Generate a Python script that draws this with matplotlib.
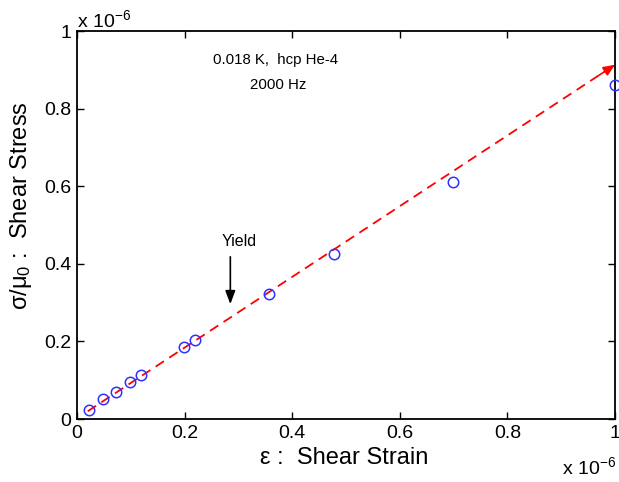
import matplotlib
matplotlib.use("Agg")
import matplotlib.pyplot as plt
import numpy as np

plt.rcParams['font.family'] = ['Liberation Sans', 'DejaVu Sans']
plt.rcParams['mathtext.fontset'] = 'custom'
plt.rcParams['mathtext.rm'] = 'Liberation Sans'
plt.rcParams['mathtext.it'] = 'Liberation Sans'

strain = [0.022, 0.048, 0.072, 0.098, 0.119, 0.198, 0.219, 0.357, 0.478, 0.698, 1.0]
stress = [0.023, 0.051, 0.070, 0.096, 0.113, 0.186, 0.203, 0.322, 0.424, 0.610, 0.862]
fit_x = [0.02, 1.0]
fit_y = [0.02, 0.913]
xticks = [0, 0.2, 0.4, 0.6, 0.8, 1]
xticklabels = ['0', '0.2', '0.4', '0.6', '0.8', '1']
yticks = [0, 0.2, 0.4, 0.6, 0.8, 1]
yticklabels = ['0', '0.2', '0.4', '0.6', '0.8', '1']

fig = plt.figure(figsize=(6.19, 4.82), dpi=100)
W, H = 619, 482
ax = fig.add_axes([77 / W, 1 - 419 / H, (615 - 77) / W, (419 - 31) / H])

ax.plot(fit_x, fit_y, color='red', linestyle=(0, (5.5, 3.5)), linewidth=1.3, zorder=2)
ax.annotate('', xy=(fit_x[1], fit_y[1]),
            xytext=(fit_x[1] - 0.03, fit_y[1] - 0.03 * (fit_y[1] - fit_y[0]) / (fit_x[1] - fit_x[0])),
            arrowprops=dict(arrowstyle='-|>,head_length=0.7,head_width=0.3', color='red', lw=1.2,
                            shrinkA=0, shrinkB=0), zorder=3)
ax.plot(strain, stress, linestyle='none', marker='o', markersize=7.5, markerfacecolor='none',
        markeredgecolor='#3030ff', markeredgewidth=1.1, zorder=4, clip_on=False)

ax.annotate('', xy=(0.285, 0.296), xytext=(0.285, 0.418),
            arrowprops=dict(arrowstyle='-|>,head_length=0.8,head_width=0.3', color='black', lw=1.2,
                            shrinkA=0, shrinkB=0))
ax.text(0.302, 0.458, 'Yield', ha='center', va='center', fontsize=11.5)
ax.text(0.370, 0.926, '0.018 K,  hcp He-4', ha='center', va='center', fontsize=10.8)
ax.text(0.374, 0.861, '2000 Hz', ha='center', va='center', fontsize=10.8)

ax.set_xlim(0, 1)
ax.set_ylim(0, 1)
ax.set_xticks(xticks)
ax.set_xticklabels(xticklabels)
ax.set_yticks(yticks)
ax.set_yticklabels(yticklabels)
ax.tick_params(direction='in', length=5, width=1, labelsize=14, top=True, right=True, pad=4)
for s in ax.spines.values():
    s.set_linewidth(1.3)

fig.text(344 / W, 1 - 458 / H, 'ε :  Shear Strain', ha='center', va='center', fontsize=17)
fig.text(21 / W, 1 - 206 / H, r'σ/μ$_0$ :  Shear Stress', ha='center', va='center', fontsize=17,
         rotation=90)
fig.text(77 / W, 1 - 20 / H, r'x 10$^{-6}$', ha='left', va='center', fontsize=14)
fig.text(562 / W, 1 - 467 / H, r'x 10$^{-6}$', ha='left', va='center', fontsize=14)

fig.savefig('out.png', dpi=100)
